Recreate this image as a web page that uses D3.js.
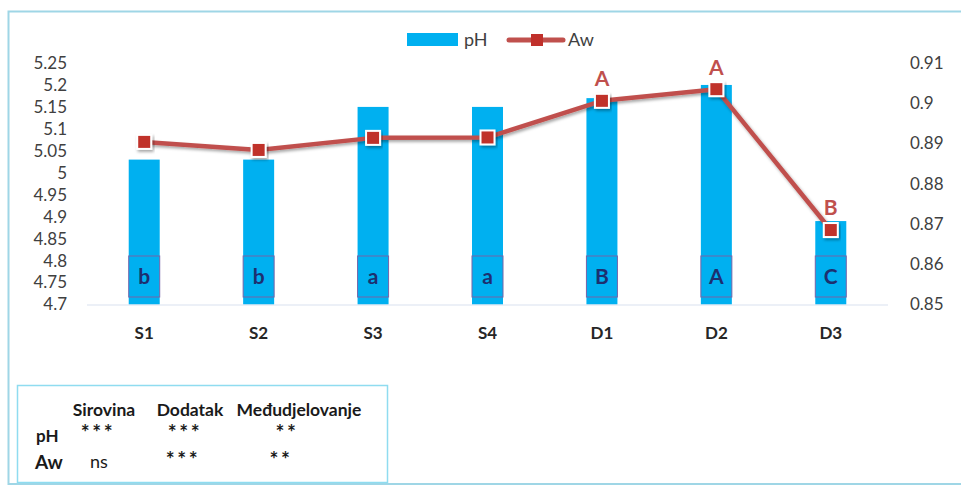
<!DOCTYPE html>
<html><head><meta charset="utf-8">
<script src="https://cdn.jsdelivr.net/npm/d3@7"></script>
<style>
body{margin:0;background:#fff;}
svg{display:block;font-family:Lato,"Open Sans",sans-serif;}
</style></head>
<body>
<svg id="c" width="961" height="486"></svg>
<script>
const categories = ["S1","S2","S3","S4","D1","D2","D3"];
const phValues = [5.03,5.03,5.15,5.15,5.17,5.20,4.89];
const awValues = [0.8904,0.8884,0.8914,0.8915,0.9006,0.9035,0.8685];
const phLetters = ["b","b","a","a","B","A","C"];
const awLetters = ["","","","","A","A","B"];
const phTicks = [4.7,4.75,4.8,4.85,4.9,4.95,5,5.05,5.1,5.15,5.2,5.25];
const awTicks = [0.85,0.86,0.87,0.88,0.89,0.9,0.91];
const tableCols = ["Sirovina","Dodatak","Međudjelovanje"];
const tableRows = ["pH","Aw"];
const tableVals = [["***","***","**"],["ns","***","**"]];

const svg = d3.select("#c");
const defs = svg.append("defs");
const f = defs.append("filter").attr("id","sh").attr("x","-20%").attr("y","-20%").attr("width","140%").attr("height","160%");
f.append("feDropShadow").attr("dx",1.5).attr("dy",2).attr("stdDeviation",1.5).attr("flood-color","#000").attr("flood-opacity",0.35);

// outer border
svg.append("rect").attr("x",8.5).attr("y",11.5).attr("width",980).attr("height",472.5)
  .attr("fill","none").attr("stroke","#9fd6e6").attr("stroke-width",2);

const L=87, R=888, T=63, B=304.5;
const x = d3.scaleBand().domain(categories).range([L,R]);
const yL = d3.scaleLinear().domain([4.7,5.25]).range([B,T]);
const yR = d3.scaleLinear().domain([0.85,0.91]).range([B,T]);
const bw = 31;

// bars
svg.append("g").selectAll("rect").data(categories).join("rect")
  .attr("x",d=>x(d)+x.bandwidth()/2-bw/2).attr("width",bw)
  .attr("y",(d,i)=>yL(phValues[i])).attr("height",(d,i)=>B-yL(phValues[i]))
  .attr("fill","#00b0f0");

// baseline
svg.append("line").attr("x1",L).attr("x2",R).attr("y1",B+0.5).attr("y2",B+0.5).attr("stroke","#d9e1f0").attr("stroke-width",1.2);

// letter boxes
const lb = svg.append("g");
categories.forEach((c,i)=>{
  const cx = x(c)+x.bandwidth()/2;
  lb.append("rect").attr("x",cx-bw/2).attr("y",256).attr("width",bw).attr("height",41)
    .attr("fill","none").attr("stroke","#7564a8").attr("stroke-width",1);
  lb.append("text").attr("x",cx).attr("y",277).attr("dy","0.35em").attr("text-anchor","middle")
    .attr("font-size",21).attr("font-weight","bold").attr("fill","#1d2f6f").text(phLetters[i]);
});

// left axis
const axL = d3.axisLeft(yL).tickValues(phTicks).tickSize(0).tickPadding(0).tickFormat(d=>d3.format("")(+d.toFixed(2)));
const gL = svg.append("g").attr("transform",`translate(67,0)`).call(axL);
gL.select(".domain").remove();
gL.selectAll("text").attr("font-size",17).attr("fill","#404040").attr("font-family","Lato,'Open Sans',sans-serif");

// right axis
const axR = d3.axisRight(yR).tickValues(awTicks).tickSize(0).tickPadding(0).tickFormat(d=>d3.format("")(+d.toFixed(2)));
const gR = svg.append("g").attr("transform",`translate(910,0)`).call(axR);
gR.select(".domain").remove();
gR.selectAll("text").attr("font-size",17).attr("fill","#404040").attr("font-family","Lato,'Open Sans',sans-serif");

// x labels
svg.append("g").selectAll("text").data(categories).join("text")
  .attr("x",d=>x(d)+x.bandwidth()/2).attr("y",333).attr("dy","0.35em").attr("text-anchor","middle")
  .attr("font-size",17).attr("font-weight","bold").attr("fill","#262626").text(d=>d);

// line
const line = d3.line().x((d,i)=>x(categories[i])+x.bandwidth()/2).y(d=>yR(d));
svg.append("path").datum(awValues).attr("d",line).attr("fill","none").attr("stroke","#c0504d")
  .attr("stroke-width",4.5).attr("stroke-linejoin","round").attr("filter","url(#sh)");
svg.append("g").selectAll("rect").data(awValues).join("rect")
  .attr("x",(d,i)=>x(categories[i])+x.bandwidth()/2-7).attr("y",d=>yR(d)-7)
  .attr("width",14).attr("height",14).attr("fill","#c0302b").attr("stroke","#fff").attr("stroke-width",2)
  .attr("filter","url(#sh)");
svg.append("g").selectAll("text").data(awValues).join("text")
  .attr("x",(d,i)=>x(categories[i])+x.bandwidth()/2).attr("y",d=>yR(d)-22).attr("dy","0.35em")
  .attr("text-anchor","middle").attr("font-size",21).attr("font-weight","bold").attr("fill","#c0504d")
  .text((d,i)=>awLetters[i]);

// legend
const lg = svg.append("g");
lg.append("rect").attr("x",407).attr("y",33).attr("width",51).attr("height",13).attr("fill","#00b0f0");
lg.append("text").attr("x",464).attr("y",40).attr("dy","0.35em").attr("font-size",18).attr("fill","#404040").text("pH");
lg.append("line").attr("x1",509).attr("x2",563).attr("y1",40).attr("y2",40).attr("stroke","#c0504d").attr("stroke-width",5).attr("stroke-linecap","round");
lg.append("rect").attr("x",531).attr("y",34).attr("width",12).attr("height",12).attr("fill","#c0302b");
lg.append("text").attr("x",568).attr("y",40).attr("dy","0.35em").attr("font-size",18).attr("fill","#404040").text("Aw");

// table
const tb = svg.append("g");
tb.append("rect").attr("x",17.5).attr("y",385.5).attr("width",370).attr("height",97).attr("fill","none").attr("stroke","#8fdcf0").attr("stroke-width",1.5);
const colX = [104,190,299];
tableCols.forEach((c,i)=>{
  tb.append("text").attr("x",colX[i]).attr("y",410).attr("dy","0.35em").attr("text-anchor","middle")
    .attr("font-size",17.5).attr("font-weight","bold").attr("fill","#1a1a1a").text(c);
});
const rowY = [436,462];
const valY = [[429,429,429],[462,456,456]];
const valX = [[98,185,287],[99,183,281]];
tableRows.forEach((r,j)=>{
  tb.append("text").attr("x",j===0?36:35).attr("y",rowY[j]).attr("dy","0.35em")
    .attr("font-size",j===0?17:19).attr("font-weight","bold").attr("fill","#1a1a1a").text(r);
  tableVals[j].forEach((v,i)=>{
    if (v==="ns") {
      tb.append("text").attr("x",valX[j][i]).attr("y",valY[j][i]).attr("dy","0.35em").attr("text-anchor","middle")
        .attr("font-size",18).attr("fill","#1a1a1a").text(v);
    } else {
      tb.append("text").attr("x",valX[j][i]).attr("y",valY[j][i]+11).attr("text-anchor","middle")
        .attr("font-size",21).attr("font-weight","bold").attr("letter-spacing",2.5).attr("fill","#1a1a1a").text(v);
    }
  });
});
</script>
</body></html>
